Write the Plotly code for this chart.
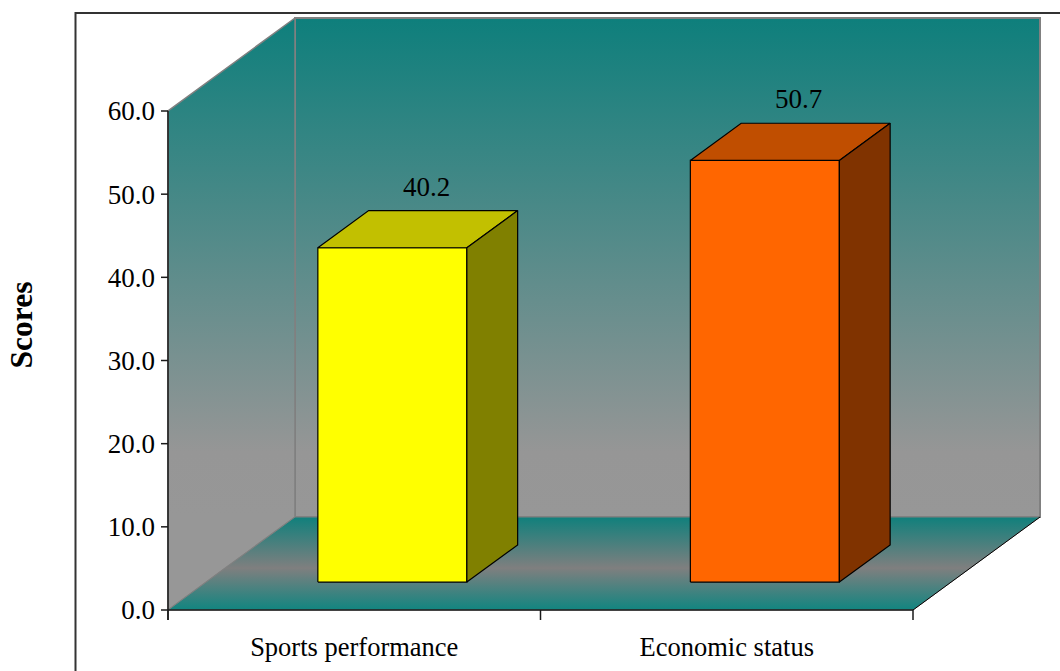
import plotly.graph_objects as go

# ---- data -------------------------------------------------------------
categories = ["Sports performance", "Economic status"]
scores = [40.2, 50.7]
front_colors = ["#FFFF00", "#FF6600"]
top_colors = ["#C2C000", "#C04E00"]
side_colors = ["#808000", "#803300"]
y_ticks = [0, 10, 20, 30, 40, 50, 60]
y_max = 60

# ---- geometry of the pseudo-3D box -----------------------------------
W, H = 1060, 671
X0_PX, UNIT_X_PX = 168, 372.5          # origin / px per category on the front plane
Y0_PX, UNIT_Y_PX = 610, 499 / 60       # origin / px per score point on the front plane
DEPTH_X = 127 / UNIT_X_PX              # full floor depth, in x units
DEPTH_Y = 93 / UNIT_Y_PX               # full floor depth, in score units
PLOT_L, PLOT_B = 156, 626              # plot-area left / bottom edge in px
BAR_HALF = 0.2                         # half bar width (categories)
Z_FRONT, Z_BACK = 0.3, 0.7             # bar depth slice
FONT = "Liberation Serif"
TEAL, GREY = "#0e7f7c", "#979797"


def proj(x, v, z):
    """Project a point at depth z (0 = front, 1 = back wall) onto the chart plane."""
    return x + z * DEPTH_X, v + z * DEPTH_Y


def poly(pts, fill=None, line_color="black", line_width=1.2, gradient=None):
    xs = [p[0] for p in pts] + [pts[0][0]]
    ys = [p[1] for p in pts] + [pts[0][1]]
    kw = dict(x=xs, y=ys, mode="lines", fill="toself", hoverinfo="skip",
              showlegend=False, line=dict(color=line_color, width=line_width))
    if gradient is not None:
        kw["fillgradient"] = gradient
    else:
        kw["fillcolor"] = fill
    return go.Scatter(**kw)


def seg(points, color, width):
    xs, ys = [], []
    for a, b in points:
        xs += [a[0], b[0], None]
        ys += [a[1], b[1], None]
    return go.Scatter(x=xs, y=ys, mode="lines", hoverinfo="skip", showlegend=False,
                      line=dict(color=color, width=width))


n = len(categories)
fig = go.Figure()

wall_grad = dict(type="vertical", start=DEPTH_Y, stop=y_max + DEPTH_Y,
                 colorscale=[[0, GREY], [0.13, "#969696"], [1, TEAL]])
floor_grad = dict(type="vertical", start=0, stop=DEPTH_Y,
                  colorscale=[[0, "#118580"], [0.45, "#7f7f7f"], [1, "#10807c"]])

# back wall
fig.add_trace(poly([proj(0, 0, 1), proj(n, 0, 1), proj(n, y_max, 1), proj(0, y_max, 1)],
                   line_color="#808080", line_width=2, gradient=wall_grad))
# left wall
fig.add_trace(poly([proj(0, 0, 0), proj(0, 0, 1), proj(0, y_max, 1), proj(0, y_max, 0)],
                   line_color="#808080", line_width=1.5, gradient=wall_grad))
# floor
fig.add_trace(poly([proj(0, 0, 0), proj(n, 0, 0), proj(n, 0, 1), proj(0, 0, 1)],
                   line_color="#808080", line_width=1, gradient=floor_grad))
# floor right edge
fig.add_trace(seg([(proj(n, 0, 0), proj(n, 0, 1))], "black", 1))

# axis lines and tick marks
ytick_len = 7 / UNIT_X_PX
xtick_len = 10 / UNIT_Y_PX
axis_segs = [((0, -xtick_len), (0, y_max)), ((0, 0), (n, 0))]
axis_segs += [((-ytick_len, t), (0, t)) for t in y_ticks]
axis_segs += [((i, 0), (i, -xtick_len)) for i in range(n + 1)]
fig.add_trace(seg(axis_segs, "#1a1a1a", 1.5))

# bars: front, top and side faces
for i, (val, fc, tc, sc) in enumerate(zip(scores, front_colors, top_colors, side_colors)):
    c = i + 0.5
    l, r = c - BAR_HALF, c + BAR_HALF
    fig.add_trace(poly([proj(l, 0, Z_FRONT), proj(r, 0, Z_FRONT),
                        proj(r, val, Z_FRONT), proj(l, val, Z_FRONT)], fill=fc))
    fig.add_trace(poly([proj(l, val, Z_FRONT), proj(r, val, Z_FRONT),
                        proj(r, val, Z_BACK), proj(l, val, Z_BACK)], fill=tc))
    fig.add_trace(poly([proj(r, 0, Z_FRONT), proj(r, 0, Z_BACK),
                        proj(r, val, Z_BACK), proj(r, val, Z_FRONT)], fill=sc))
    lx, ly = proj(c, val, (Z_FRONT + Z_BACK) / 2)
    fig.add_annotation(x=lx + 8.5 / UNIT_X_PX, y=val + Z_BACK * DEPTH_Y + 24 / UNIT_Y_PX,
                       xref="x", yref="y", text=f"{val:.1f}", showarrow=False,
                       xanchor="center", yanchor="middle",
                       font=dict(family=FONT, size=27, color="black"))

fig.add_annotation(x=21 / W, y=1 - 325.5 / H, xref="paper", yref="paper",
                   text="<b>Scores</b>", textangle=-90, showarrow=False,
                   xanchor="center", yanchor="middle",
                   font=dict(family=FONT, size=31.5, color="black"))

# chart frame
fig.add_shape(type="rect", xref="paper", yref="paper",
              x0=75.5 / W, y0=1 - 13 / H, x1=1.1, y1=-0.1,
              line=dict(color="#333333", width=2), fillcolor="rgba(0,0,0,0)", layer="below")

fig.update_layout(
    width=W, height=H,
    margin=dict(l=0, r=0, t=0, b=0),
    paper_bgcolor="white", plot_bgcolor="rgba(0,0,0,0)",
    xaxis=dict(domain=[PLOT_L / W, 1],
               range=[(PLOT_L - X0_PX) / UNIT_X_PX, (W - X0_PX) / UNIT_X_PX],
               tickmode="array", tickvals=[i + 0.5 for i in range(n)], ticktext=categories,
               ticks="", showgrid=False, zeroline=False, showline=False,
               tickfont=dict(family=FONT, size=26.5, color="black"),
               ticklabelstandoff=2, fixedrange=True),
    yaxis=dict(domain=[(H - PLOT_B) / H, 1],
               range=[(Y0_PX - PLOT_B) / UNIT_Y_PX, Y0_PX / UNIT_Y_PX],
               tickmode="array", tickvals=y_ticks, ticktext=[f"{t:.1f}" for t in y_ticks],
               ticks="", showgrid=False, zeroline=False, showline=False,
               tickfont=dict(family=FONT, size=27, color="black"),
               ticklabelstandoff=0, fixedrange=True),
)

fig.write_html("out.html")
